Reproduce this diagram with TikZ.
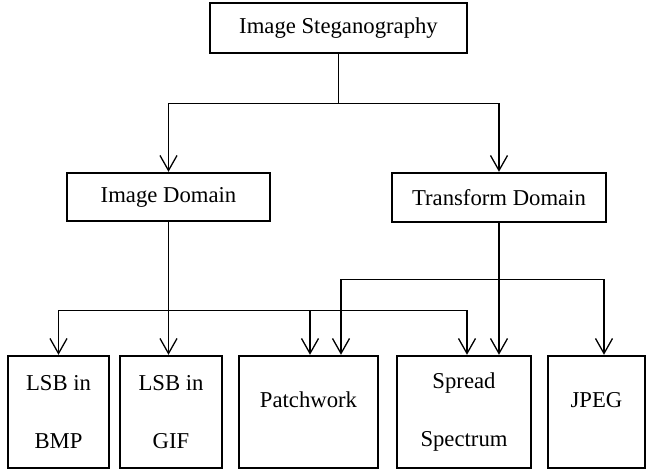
\documentclass[tikz,border=0pt]{standalone}
\usepackage{fontspec}
\setmainfont{Liberation Serif}
\usetikzlibrary{arrows.meta,positioning}

\begin{document}
\begin{tikzpicture}[
    x=1pt, y=-1pt,
    box/.style={draw,line width=2.4pt,inner sep=0pt,align=center,font=\fontsize{22.7}{58}\selectfont},
    leaf/.style={box,minimum height=112pt},
    single/.style={leaf,text depth=24pt},
    link/.style={line width=1.3pt},
    >={Straight Barb[length=15pt,width=17pt]}
]
\useasboundingbox (0,0) rectangle (646,470);
\node[box,minimum width=257pt,minimum height=50pt] (steg) at (338.5,28) {Image Steganography};
\node[box,minimum width=203pt,minimum height=48pt] (imgdom) at (168.5,197) {Image Domain};
\node[box,minimum width=214pt,minimum height=49pt] (trdom) at (499,197.5) {Transform Domain};
\node[leaf,minimum width=101pt] (bmp) at (58.5,412) {LSB in\\BMP};
\node[leaf,minimum width=102pt] (gif) at (171,412) {LSB in\\GIF};
\node[single,minimum width=139pt] (patch) at (308.5,412) {Patchwork};
\node[leaf,minimum width=134pt] (spread) at (464,412) {Spread\\Spectrum};
\node[single,minimum width=97pt] (jpeg) at (596.5,412) {JPEG};
\draw[link] (steg.south) -- ++(0,49) coordinate (split);
\draw[link,->] (split) -| (imgdom.north);
\draw[link,->] (split) -| (trdom.north);
\draw[link] (imgdom.south) -- ++(0,88) coordinate (imgbus);
\draw[link,->] (imgbus) -- (imgbus |- gif.north);
\draw[link,->] (imgbus) -| (bmp.north);
\draw[link,->] (imgbus) -| ([xshift=1.5pt]patch.north);
\draw[link,->] (imgbus) -| ([xshift=3pt]spread.north);
\path (trdom.south) ++(0,56) coordinate (trbus);
\draw[link,->] (trdom.south) -- (trdom.south |- spread.north);
\draw[link,->] (trbus) -| ([xshift=32.5pt]patch.north);
\draw[link,->] (trbus) -| ([xshift=7.5pt]jpeg.north);
\end{tikzpicture}
\end{document}
